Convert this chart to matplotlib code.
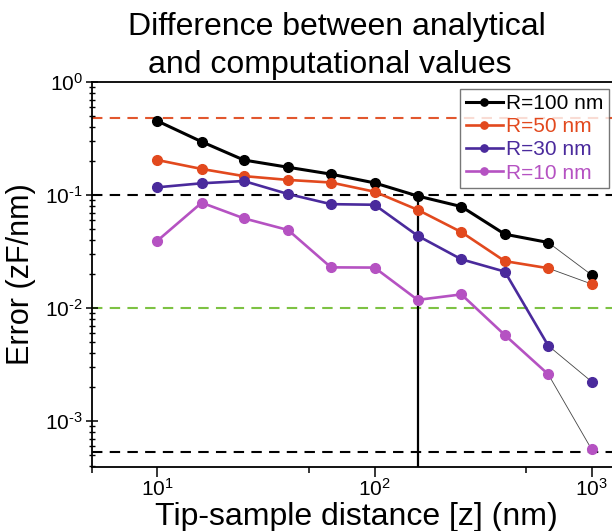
import matplotlib
matplotlib.use("Agg")
import matplotlib.pyplot as plt
from matplotlib.ticker import FixedLocator, LogLocator, NullFormatter
import numpy as np

plt.rcParams['font.family'] = ['Liberation Sans', 'DejaVu Sans']
plt.rcParams['mathtext.fontset'] = 'custom'
plt.rcParams['mathtext.rm'] = 'Liberation Sans'
plt.rcParams['mathtext.it'] = 'Liberation Sans:italic'
plt.rcParams['mathtext.bf'] = 'Liberation Sans:bold'

# tip-sample distance (nm)
distance = [10, 16, 25, 40, 63, 100, 158, 251, 398, 631, 1000]

# error (zF/nm) for each tip radius
err_r100 = [0.452, 0.296, 0.204, 0.176, 0.153, 0.128, 0.098, 0.079, 0.045, 0.038, 0.0196]
err_r50 = [0.204, 0.170, 0.147, 0.136, 0.129, 0.107, 0.074, 0.047, 0.026, 0.0225, 0.0163]
err_r30 = [0.117, 0.127, 0.133, 0.102, 0.083, 0.082, 0.0436, 0.027, 0.021, 0.00464, 0.00223]
err_r10 = [0.0394, 0.0855, 0.0622, 0.049, 0.0229, 0.0228, 0.0118, 0.0132, 0.00577, 0.00259, 0.00056]

labels = ['R=100 nm', 'R=50 nm', 'R=30 nm', 'R=10 nm']
colors = ['#000000', '#E2491E', '#4A2A9C', '#B552C2']

# reference levels (dashed)
ref_levels = [0.48, 0.1, 0.01, 0.00053]
ref_colors = ['#E2572E', '#000000', '#7DC243', '#000000']

cutoff_distance = 158

title_lines = ['Difference between analytical', 'and computational values']
xtick_labels = [r'$10^{1}$', r'$10^{2}$', r'$10^{3}$']
ytick_labels = [r'$10^{\text{-}3}$', r'$10^{\text{-}2}$', r'$10^{\text{-}1}$', r'$10^{0}$']

fig = plt.figure(figsize=(6.12, 5.31), dpi=100)
ax = fig.add_axes([92 / 612, 64 / 531, 528 / 612, 385 / 531])

for lvl, c in zip(ref_levels, ref_colors):
    ax.axhline(lvl, color=c, linestyle=(0, (5, 3.5)), linewidth=1.5, zorder=1)

series = [err_r100, err_r50, err_r30, err_r10]
for vals, lab, c in zip(series, labels, colors):
    lw = 2.2 if c == '#000000' else 1.9
    ax.plot(distance[:-1], vals[:-1], '-o', color=c, linewidth=lw,
            markersize=7, label=lab, zorder=3)
    # last point joined by a thin line
    ax.plot(distance[-2:], vals[-2:], '-', color='#444444', linewidth=0.6, zorder=2)
    ax.plot(distance[-1:], vals[-1:], 'o', color=c, markersize=7, zorder=3)

i_cut = distance.index(cutoff_distance)
ax.vlines(cutoff_distance, 1e-5, err_r100[i_cut], color='black', linewidth=1.6, zorder=2)

ax.set_xscale('log')
ax.set_yscale('log')
ax.set_xlim(5, 1350)
ax.set_ylim(3.92e-4, 1)

ax.xaxis.set_major_locator(FixedLocator([10, 100, 1000]))
ax.xaxis.set_minor_locator(FixedLocator([5, 50, 500]))
ax.xaxis.set_minor_formatter(NullFormatter())
ax.set_xticklabels(xtick_labels)
ax.yaxis.set_major_locator(FixedLocator([1e-3, 1e-2, 1e-1, 1]))
ax.yaxis.set_minor_locator(LogLocator(base=10, subs=np.arange(2, 10)))
ax.yaxis.set_minor_formatter(NullFormatter())
ax.set_yticklabels(ytick_labels)

ax.tick_params(axis='x', which='major', direction='out', length=7, width=1.1, labelsize=15, pad=1)
ax.tick_params(axis='x', which='minor', direction='out', length=4, width=1.1)
ax.tick_params(axis='y', which='major', direction='inout', length=9, width=1.1, labelsize=15, pad=2)
ax.tick_params(axis='y', which='minor', direction='inout', length=5, width=1.0)

for s in ax.spines.values():
    s.set_linewidth(1.3)

leg = ax.legend(loc='upper right', bbox_to_anchor=(0.979, 0.982), borderaxespad=0,
                fontsize=15, handlelength=1.8, handletextpad=0.15, labelspacing=0.2,
                borderpad=0.25, frameon=True, fancybox=False, markerscale=0.75)
leg.get_frame().set_edgecolor('#555555')
leg.get_frame().set_linewidth(1.0)
leg.set_zorder(5)
for t, c in zip(leg.get_texts(), colors):
    t.set_color(c)

fig.text(337 / 612, 1 - 35 / 531, title_lines[0], ha='center', va='baseline', fontsize=23)
fig.text(330 / 612, 1 - 72.5 / 531, title_lines[1], ha='center', va='baseline', fontsize=23)

fig.text(356 / 612, 6 / 531, 'Tip-sample distance [z] (nm)', ha='center', va='baseline', fontsize=23)
fig.text(21 / 612, 1 - 274 / 531, 'Error (zF/nm)', ha='center', va='center',
         rotation=90, fontsize=22)

fig.savefig('out.png', dpi=100, facecolor='white')
